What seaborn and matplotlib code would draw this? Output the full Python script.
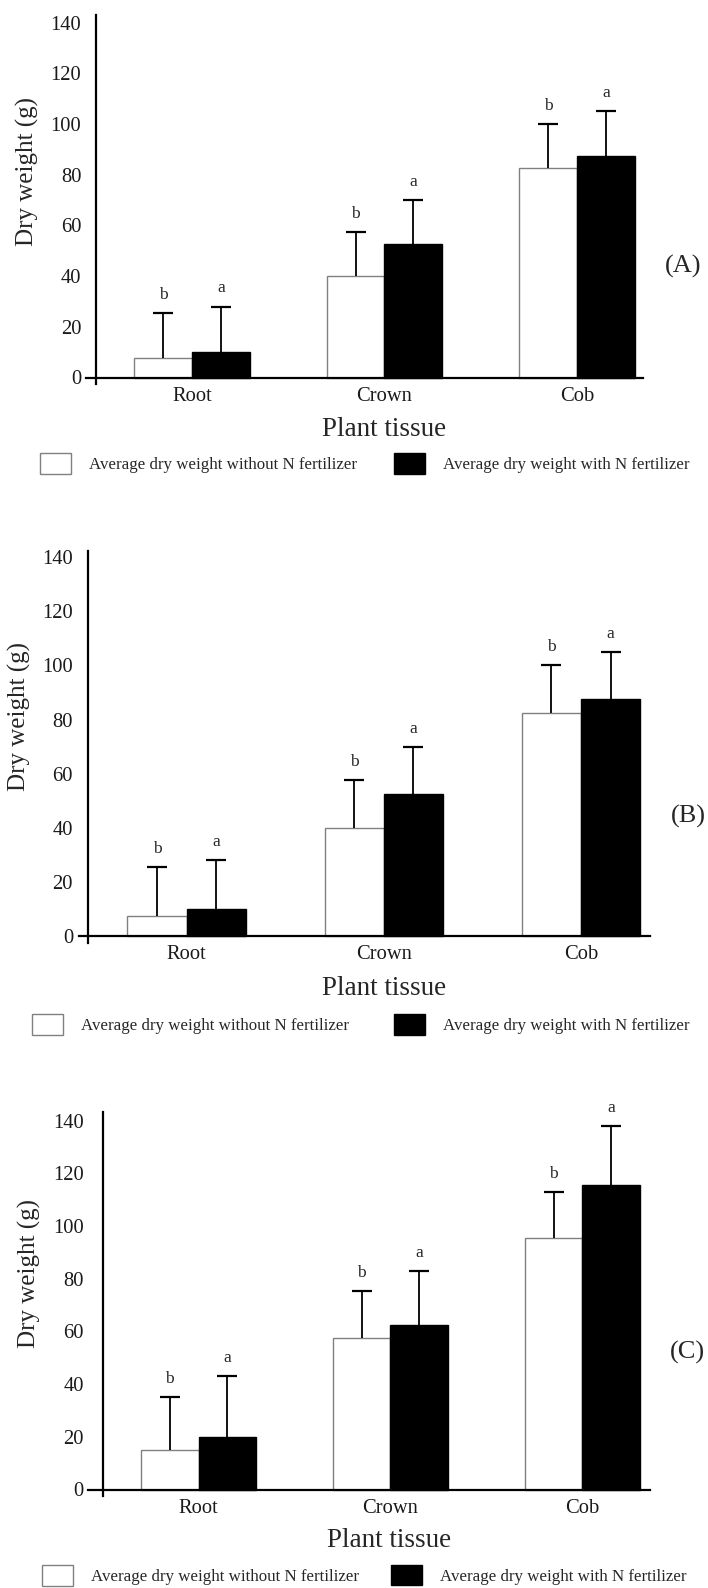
import numpy as np
import pandas as pd
import matplotlib
matplotlib.use("Agg")
import matplotlib.pyplot as plt
import seaborn as sns
from matplotlib.patches import Patch

# ---------------- data ----------------
tissues = ["Root", "Crown", "Cob"]
treatments = ["Average dry weight without N fertilizer",
              "Average dry weight with N fertilizer"]
yticks = [0, 20, 40, 60, 80, 100, 120, 140]
x_label = "Plant tissue"
y_label = "Dry weight (g)"
panel_tags = ["(A)", "(B)", "(C)"]

a_without = [7.5, 40.0, 82.5]
a_with = [10.0, 52.5, 87.5]
a_err_without = [18.0, 17.5, 17.5]
a_err_with = [18.0, 17.5, 17.5]

b_without = [7.5, 40.0, 82.5]
b_with = [10.0, 52.5, 87.5]
b_err_without = [18.0, 17.5, 17.5]
b_err_with = [18.0, 17.5, 17.5]

c_without = [15.0, 57.5, 95.5]
c_with = [20.0, 62.5, 115.5]
c_err_without = [20.0, 18.0, 17.5]
c_err_with = [23.0, 20.5, 22.5]

letters_without = ["b", "b", "b"]
letters_with = ["a", "a", "a"]

# ---------------- style ----------------
sns.set_style("white")
plt.rcParams["font.family"] = ["Liberation Serif", "DejaVu Serif"]

W, H = 708, 1588
fig = plt.figure(figsize=(W / 100, H / 100), dpi=100)

layouts = [
    dict(c0=191.9, sp=192.55, left=85.8, right=643.3, yax=95.7, zero=377.5, ppu=2.535,
         top=15.0, bottom=384.0, ypad=10.4, ylab=(27, 172), xlab=(383.7, 430),
         tag=(683, 266), legw=(39.7, 463.5), legb=(393.7, 463.5)),
    dict(c0=186.5, sp=197.25, left=79.0, right=650.0, yax=88.0, zero=936.0, ppu=2.706,
         top=551.0, bottom=943.0, ypad=10.8, ylab=(19.5, 716.7), xlab=(383.7, 988.3),
         tag=(688, 816.7), legw=(31.6, 1024.4), legb=(393.7, 1024.4)),
    dict(c0=198.6, sp=191.9, left=88.0, right=650.0, yax=103.0, zero=1489.5, ppu=2.635,
         top=1112.4, bottom=1496.0, ypad=13.8, ylab=(29, 1274), xlab=(389.4, 1540.5),
         tag=(687, 1352.8), legw=(42.0, 1575.5), legb=(390.5, 1575.0)),
]

datasets = [
    (a_without, a_with, a_err_without, a_err_with),
    (b_without, b_with, b_err_without, b_err_with),
    (c_without, c_with, c_err_without, c_err_with),
]

LEG_FS = 12.2
leg_px = LEG_FS * 100 / 72

for (wo, wi, ewo, ewi), L, tag in zip(datasets, layouts, panel_tags):
    df = pd.DataFrame({
        "tissue": tissues * 2,
        "weight": list(wo) + list(wi),
        "treatment": [treatments[0]] * 3 + [treatments[1]] * 3,
    })
    ax = fig.add_axes([L["left"] / W, 1 - L["bottom"] / H,
                       (L["right"] - L["left"]) / W, (L["bottom"] - L["top"]) / H])
    sns.barplot(data=df, x="tissue", y="weight", hue="treatment", order=tissues,
                hue_order=treatments, palette=["white", "black"], saturation=1,
                width=0.6, errorbar=None, legend=False, ax=ax, zorder=2)
    for p in ax.containers[0]:
        p.set_edgecolor("#808080")
        p.set_linewidth(1.0)
    for p in ax.containers[1]:
        p.set_edgecolor("black")
        p.set_linewidth(1.0)

    for cont, errs, lets in zip(ax.containers, [ewo, ewi], [letters_without, letters_with]):
        xs = np.array([p.get_x() + p.get_width() / 2 for p in cont])
        hs = np.array([p.get_height() for p in cont])
        tops = hs + np.array(errs)
        ax.vlines(xs, hs, tops, colors="black", linewidth=1.3, zorder=3)
        ax.plot(xs, tops, linestyle="none", marker="_", markersize=14,
                markeredgewidth=1.6, color="black", zorder=3)
        for x, t, l in zip(xs, tops, lets):
            ax.annotate(l, (x, t), xytext=(0, 13), textcoords="offset points",
                        ha="center", va="center", fontsize=12.5)

    ax.set_xlim((L["left"] - L["c0"]) / L["sp"], (L["right"] - L["c0"]) / L["sp"])
    ax.set_ylim((L["zero"] - L["bottom"]) / L["ppu"], (L["zero"] - L["top"]) / L["ppu"])
    ax.set_yticks(yticks)
    ax.set_yticklabels([str(v) for v in yticks])

    sns.despine(ax=ax)
    ax.spines["bottom"].set_position(("data", 0))
    ax.spines["left"].set_position(("data", (L["yax"] - L["c0"]) / L["sp"]))
    for s in ("bottom", "left"):
        ax.spines[s].set_linewidth(1.6)
        ax.spines[s].set_color("black")
    ax.tick_params(axis="y", length=0, pad=L["ypad"], labelsize=14.8, labelcolor="#1a1a1a")
    ax.tick_params(axis="x", length=0, pad=6.5, labelsize=14.8, labelcolor="#1a1a1a")

    ax.set_xlabel(x_label, fontsize=19.5)
    ax.xaxis.label.set_va("center")
    ax.xaxis.set_label_coords(L["xlab"][0] / W, 1 - L["xlab"][1] / H, transform=fig.transFigure)
    ax.set_ylabel(y_label, fontsize=18)
    ax.yaxis.label.set_va("center")
    ax.yaxis.set_label_coords(L["ylab"][0] / W, 1 - L["ylab"][1] / H, transform=fig.transFigure)

    fig.text(L["tag"][0] / W, 1 - L["tag"][1] / H, tag, ha="center", va="center", fontsize=19)

    handles = [Patch(facecolor="white", edgecolor="#808080", linewidth=1.0),
               Patch(facecolor="black", edgecolor="black", linewidth=1.0)]
    for hnd, lab, pos in zip(handles, treatments, [L["legw"], L["legb"]]):
        fig.legend([hnd], [lab], loc="center left",
                   bbox_to_anchor=(pos[0] / W, 1 - pos[1] / H),
                   frameon=False, borderpad=0, borderaxespad=0,
                   handlelength=31 / leg_px, handleheight=25 / leg_px,
                   handletextpad=18 / leg_px, fontsize=LEG_FS)

fig.savefig("out.png", dpi=100)
